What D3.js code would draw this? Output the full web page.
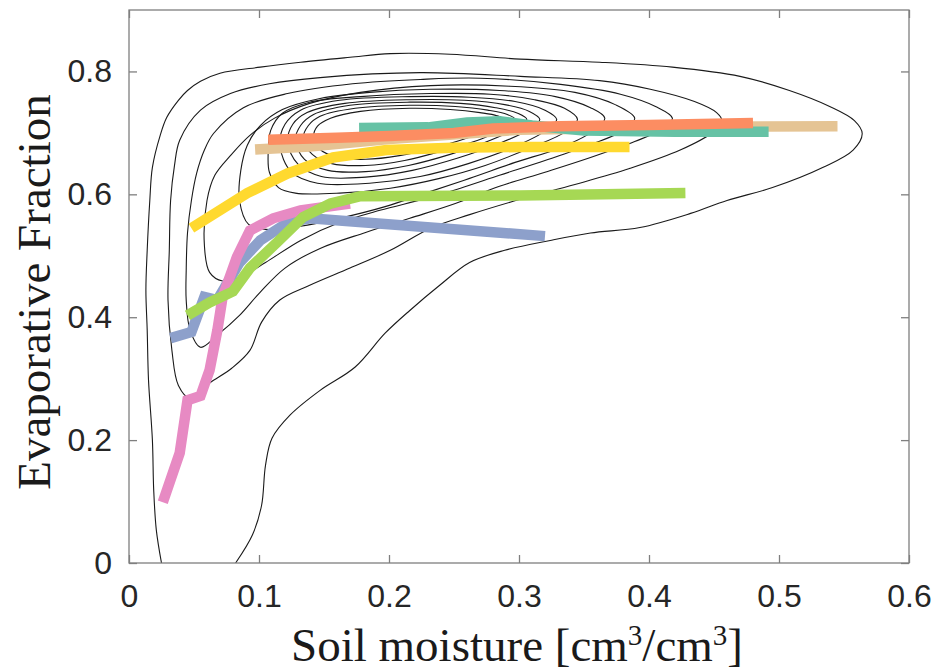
<!DOCTYPE html>
<html>
<head>
<meta charset="utf-8">
<script src="https://cdn.jsdelivr.net/npm/d3@7"></script>
<style>
  body { margin: 0; background: #fff; }
</style>
</head>
<body>
<svg id="chart" width="937" height="671"></svg>
<script>
// ---- axis ticks ----
const xTickValues = [0, 0.1, 0.2, 0.3, 0.4, 0.5, 0.6];
const yTickValues = [0, 0.2, 0.4, 0.6, 0.8];

// ---- joint density contours [soil moisture, evaporative fraction], outermost first ----
// the outermost level runs off the bottom edge, the others are closed loops
const contourOpen = [[0.025,0],[0.021,0.054],[0.019,0.119],[0.018,0.200],[0.015,0.298],[0.014,0.379],[0.013,0.444],[0.014,0.509],[0.016,0.590],[0.018,0.644],[0.024,0.696],[0.029,0.725],[0.038,0.753],[0.045,0.769],[0.055,0.784],[0.070,0.797],[0.101,0.807],[0.132,0.815],[0.170,0.823],[0.201,0.829],[0.247,0.828],[0.301,0.820],[0.362,0.815],[0.418,0.807],[0.470,0.792],[0.508,0.769],[0.539,0.743],[0.558,0.720],[0.564,0.699],[0.557,0.672],[0.534,0.644],[0.495,0.611],[0.460,0.590],[0.432,0.569],[0.393,0.546],[0.355,0.537],[0.324,0.525],[0.289,0.509],[0.262,0.489],[0.239,0.452],[0.216,0.411],[0.197,0.374],[0.174,0.319],[0.147,0.281],[0.124,0.241],[0.110,0.203],[0.105,0.159],[0.102,0.094],[0.095,0.046],[0.082,0]];
const contour2 = [[0.030,0.428],[0.031,0.509],[0.032,0.590],[0.035,0.647],[0.039,0.688],[0.055,0.737],[0.078,0.764],[0.108,0.780],[0.147,0.790],[0.224,0.798],[0.301,0.792],[0.362,0.785],[0.401,0.771],[0.435,0.751],[0.452,0.733],[0.456,0.720],[0.449,0.701],[0.424,0.672],[0.385,0.642],[0.343,0.616],[0.301,0.592],[0.262,0.567],[0.232,0.545],[0.201,0.509],[0.170,0.480],[0.139,0.452],[0.116,0.428],[0.102,0.392],[0.093,0.346],[0.079,0.317],[0.062,0.293],[0.047,0.268],[0.038,0.289],[0.033,0.346]];
const contour3 = [[0.044,0.428],[0.044,0.476],[0.045,0.537],[0.048,0.590],[0.052,0.634],[0.058,0.672],[0.065,0.699],[0.088,0.741],[0.122,0.764],[0.172,0.780],[0.224,0.787],[0.270,0.789],[0.332,0.779],[0.378,0.763],[0.405,0.743],[0.418,0.724],[0.411,0.707],[0.389,0.686],[0.355,0.660],[0.320,0.636],[0.285,0.613],[0.251,0.585],[0.216,0.561],[0.182,0.538],[0.147,0.512],[0.120,0.480],[0.101,0.441],[0.085,0.403],[0.068,0.371],[0.055,0.351],[0.047,0.379]];
const contour4 = [[0.058,0.517],[0.060,0.590],[0.066,0.631],[0.078,0.663],[0.093,0.696],[0.112,0.724],[0.139,0.748],[0.178,0.766],[0.232,0.777],[0.293,0.776],[0.343,0.766],[0.374,0.746],[0.389,0.724],[0.382,0.706],[0.355,0.681],[0.320,0.655],[0.285,0.631],[0.255,0.610],[0.228,0.593],[0.193,0.574],[0.162,0.554],[0.132,0.525],[0.105,0.489],[0.085,0.465],[0.072,0.459],[0.062,0.473]];
const contour5 = [[0.085,0.590],[0.086,0.639],[0.091,0.680],[0.101,0.712],[0.118,0.738],[0.147,0.756],[0.185,0.766],[0.232,0.771],[0.285,0.769],[0.328,0.759],[0.355,0.741],[0.366,0.724],[0.358,0.704],[0.332,0.676],[0.297,0.652],[0.262,0.626],[0.228,0.602],[0.197,0.580],[0.162,0.561],[0.132,0.548],[0.105,0.543],[0.092,0.551]];
const contour6 = [[0.107,0.663],[0.109,0.704],[0.118,0.732],[0.139,0.750],[0.178,0.759],[0.232,0.764],[0.278,0.763],[0.312,0.754],[0.335,0.740],[0.345,0.722],[0.336,0.702],[0.308,0.675],[0.274,0.647],[0.239,0.626],[0.201,0.610],[0.162,0.602],[0.128,0.602],[0.115,0.611],[0.108,0.636]];
const contour7 = [[0.116,0.680],[0.120,0.714],[0.132,0.737],[0.162,0.753],[0.216,0.759],[0.262,0.758],[0.297,0.751],[0.320,0.737],[0.329,0.722],[0.321,0.704],[0.295,0.676],[0.261,0.650],[0.224,0.629],[0.185,0.618],[0.145,0.618],[0.125,0.636]];
const contour8 = [[0.122,0.685],[0.126,0.714],[0.137,0.733],[0.166,0.748],[0.216,0.754],[0.258,0.753],[0.289,0.746],[0.308,0.735],[0.316,0.722],[0.308,0.706],[0.285,0.683],[0.253,0.659],[0.218,0.639],[0.182,0.628],[0.148,0.629],[0.130,0.649]];
const contour9 = [[0.128,0.688],[0.132,0.712],[0.142,0.730],[0.170,0.745],[0.216,0.750],[0.255,0.748],[0.282,0.741],[0.299,0.732],[0.306,0.722],[0.299,0.709],[0.278,0.688],[0.247,0.665],[0.215,0.647],[0.182,0.637],[0.153,0.639],[0.135,0.657]];
const contour10 = [[0.134,0.691],[0.138,0.712],[0.147,0.727],[0.174,0.740],[0.216,0.745],[0.251,0.743],[0.276,0.737],[0.291,0.730],[0.297,0.722],[0.291,0.711],[0.272,0.691],[0.243,0.672],[0.212,0.655],[0.182,0.647],[0.156,0.650],[0.141,0.665]];
const contour11 = [[0.142,0.694],[0.145,0.711],[0.155,0.724],[0.178,0.735],[0.216,0.740],[0.247,0.738],[0.270,0.733],[0.283,0.728],[0.288,0.722],[0.282,0.712],[0.266,0.696],[0.239,0.678],[0.208,0.663],[0.182,0.657],[0.161,0.660],[0.147,0.673]];
const closedContours = [contour2, contour3, contour4, contour5, contour6, contour7, contour8, contour9, contour10, contour11];

// ---- binned mean evaporative fraction per soil-moisture bin, one line per group ----
const tanSM    = [0.097, 0.139, 0.200, 0.300, 0.450, 0.545];
const tanEF    = [0.673, 0.678, 0.690, 0.705, 0.710, 0.711];
const tealSM   = [0.177, 0.230, 0.260, 0.285, 0.310, 0.350, 0.420, 0.492];
const tealEF   = [0.708, 0.709, 0.717, 0.719, 0.712, 0.704, 0.702, 0.702];
const orangeSM = [0.107, 0.160, 0.200, 0.250, 0.280, 0.330, 0.400, 0.480];
const orangeEF = [0.689, 0.692, 0.695, 0.700, 0.707, 0.711, 0.713, 0.716];
const blueSM   = [0.032, 0.048, 0.058, 0.068, 0.085, 0.101, 0.122, 0.139, 0.320];
const blueEF   = [0.366, 0.376, 0.433, 0.428, 0.489, 0.525, 0.554, 0.561, 0.532];
const pinkSM   = [0.026, 0.039, 0.045, 0.055, 0.062, 0.068, 0.072, 0.083, 0.093, 0.111, 0.132, 0.170];
const pinkEF   = [0.099, 0.179, 0.265, 0.272, 0.314, 0.379, 0.433, 0.498, 0.541, 0.561, 0.574, 0.585];
const greenSM  = [0.045, 0.062, 0.080, 0.093, 0.114, 0.134, 0.155, 0.178, 0.301, 0.428];
const greenEF  = [0.403, 0.424, 0.442, 0.480, 0.522, 0.563, 0.585, 0.597, 0.598, 0.602];
const yellowSM = [0.048, 0.091, 0.122, 0.157, 0.198, 0.249, 0.301, 0.385];
const yellowEF = [0.545, 0.602, 0.634, 0.660, 0.672, 0.676, 0.677, 0.677];

const seriesColors = ["#e5c494", "#66c2a5", "#fc8d62", "#8da0cb", "#e78ac3", "#a6d854", "#ffd92f"];
const seriesX = [tanSM, tealSM, orangeSM, blueSM, pinkSM, greenSM, yellowSM];
const seriesY = [tanEF, tealEF, orangeEF, blueEF, pinkEF, greenEF, yellowEF];

// ---- layout ----
const svg = d3.select("#chart");
const plot = { left: 129, top: 10, right: 909, bottom: 563 };

const x = d3.scaleLinear().domain([0, 0.6]).range([plot.left, plot.right]);
const y = d3.scaleLinear().domain([0, 0.9]).range([plot.bottom, plot.top]);

svg.append("defs").append("clipPath").attr("id", "plotClip")
  .append("rect")
  .attr("x", plot.left).attr("y", plot.top)
  .attr("width", plot.right - plot.left).attr("height", plot.bottom - plot.top);

const g = svg.append("g").attr("clip-path", "url(#plotClip)");

// contour lines
const openLine = d3.line().x(d => x(d[0])).y(d => y(d[1])).curve(d3.curveCatmullRom.alpha(0.5));
const closedLine = d3.line().x(d => x(d[0])).y(d => y(d[1])).curve(d3.curveCatmullRomClosed.alpha(0.5));

g.append("path")
  .attr("d", openLine(contourOpen))
  .attr("fill", "none").attr("stroke", "#1a1a1a").attr("stroke-width", 1.1);

g.selectAll("path.level")
  .data(closedContours)
  .join("path")
  .attr("class", "level")
  .attr("d", d => closedLine(d))
  .attr("fill", "none").attr("stroke", "#1a1a1a").attr("stroke-width", 1.1);

// thick group lines
const seriesLine = d3.line().x(d => x(d[0])).y(d => y(d[1]));
seriesX.forEach((xs, i) => {
  const pts = xs.map((v, j) => [v, seriesY[i][j]]);
  g.append("path")
    .attr("d", seriesLine(pts))
    .attr("fill", "none")
    .attr("stroke", seriesColors[i])
    .attr("stroke-width", 10.5)
    .attr("stroke-linejoin", "miter")
    .attr("stroke-linecap", "butt");
});

// ---- axes box with inward ticks on all four sides ----
const axisColor = "#7f7f7f";
const tickLen = 8;
const axes = svg.append("g");

axes.append("rect")
  .attr("x", plot.left).attr("y", plot.top)
  .attr("width", plot.right - plot.left).attr("height", plot.bottom - plot.top)
  .attr("fill", "none").attr("stroke", axisColor).attr("stroke-width", 1.3);

const fmt = d => d === 0 ? "0" : d3.format(".1f")(d);
const bottomAxis = d3.axisBottom(x).tickValues(xTickValues).tickSize(-tickLen).tickPadding(21).tickFormat(fmt);
const topAxis = d3.axisTop(x).tickValues(xTickValues).tickSize(-tickLen).tickFormat("");
const leftAxis = d3.axisLeft(y).tickValues(yTickValues).tickSize(-tickLen).tickPadding(17).tickFormat(fmt);
const rightAxis = d3.axisRight(y).tickValues(yTickValues).tickSize(-tickLen).tickFormat("");

function styleAxis(sel) {
  sel.select(".domain").remove();
  sel.selectAll(".tick line").attr("stroke", axisColor).attr("stroke-width", 1.3);
  sel.selectAll(".tick text")
    .attr("fill", "#262626")
    .style("font-family", "'Liberation Sans', Arial, sans-serif")
    .style("font-size", "32px");
}

axes.append("g").attr("transform", `translate(0,${plot.bottom})`).call(bottomAxis).call(styleAxis);
axes.append("g").attr("transform", `translate(0,${plot.top})`).call(topAxis).call(styleAxis);
axes.append("g").attr("transform", `translate(${plot.left},0)`).call(leftAxis).call(styleAxis);
axes.append("g").attr("transform", `translate(${plot.right},0)`).call(rightAxis).call(styleAxis);

// ---- axis titles ----
const titleFont = "'Liberation Serif', 'Times New Roman', serif";

const xTitle = svg.append("text")
  .attr("x", (plot.left + plot.right) / 2 - 2)
  .attr("y", 661)
  .attr("text-anchor", "middle")
  .attr("fill", "#1a1a1a")
  .style("font-family", titleFont)
  .style("font-size", "47px");
xTitle.append("tspan").text("Soil moisture [cm");
xTitle.append("tspan").attr("dy", -16).style("font-size", "29px").text("3");
xTitle.append("tspan").attr("dy", 16).text("/cm");
xTitle.append("tspan").attr("dy", -16).style("font-size", "29px").text("3");
xTitle.append("tspan").attr("dy", 16).text("]");

svg.append("text")
  .attr("transform", `translate(50,292) rotate(-90)`)
  .attr("text-anchor", "middle")
  .attr("fill", "#1a1a1a")
  .style("font-family", titleFont)
  .style("font-size", "47px")
  .text("Evaporative Fraction");
</script>
</body>
</html>
